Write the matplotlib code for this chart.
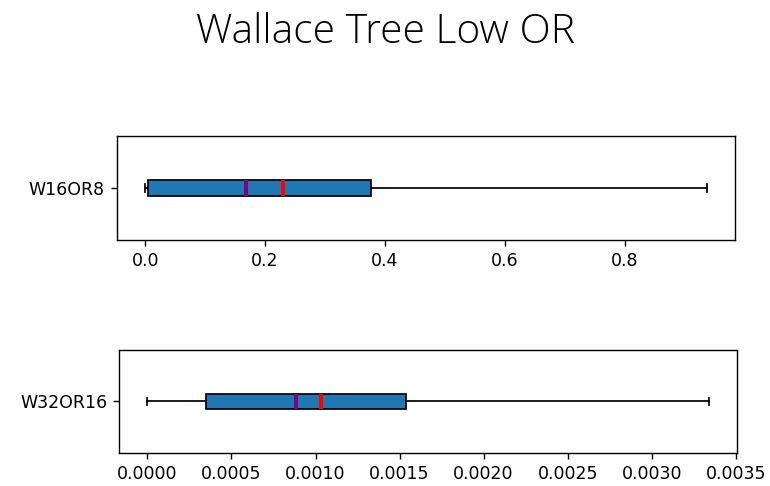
import matplotlib
matplotlib.use('Agg')
import matplotlib.pyplot as plt

# box statistics
labels = ['W16OR8', 'W32OR16']
whislo = [0.0, 0.0]
q1 = [0.0045, 0.000346]
med = [0.168, 0.000884]
mean = [0.230, 0.001033]
q3 = [0.377, 0.001539]
whishi = [0.9367, 0.00334]

fig = plt.figure(figsize=(6.16, 3.888), dpi=125)
fig.suptitle('Wallace Tree Low OR', fontsize=23.5, y=0.975,
             family=['Open Sans', 'DejaVu Sans'], fontweight='light')

positions = [[0.152, 0.506, 0.8025, 0.214],
             [0.155, 0.068, 0.802, 0.212]]

for i, pos in enumerate(positions):
    ax = fig.add_axes(pos)
    stats = [{'label': labels[i], 'whislo': whislo[i], 'q1': q1[i],
              'med': med[i], 'mean': mean[i], 'q3': q3[i],
              'whishi': whishi[i], 'fliers': []}]
    ax.bxp(stats, vert=False, widths=0.15, patch_artist=True,
           showmeans=True, meanline=True, showfliers=False,
           boxprops=dict(facecolor='#1f77b4', edgecolor='black'),
           medianprops=dict(color='purple', linewidth=2.3),
           meanprops=dict(color='red', linestyle='-', linewidth=2.3))

fig.savefig('out.png', dpi=125)
